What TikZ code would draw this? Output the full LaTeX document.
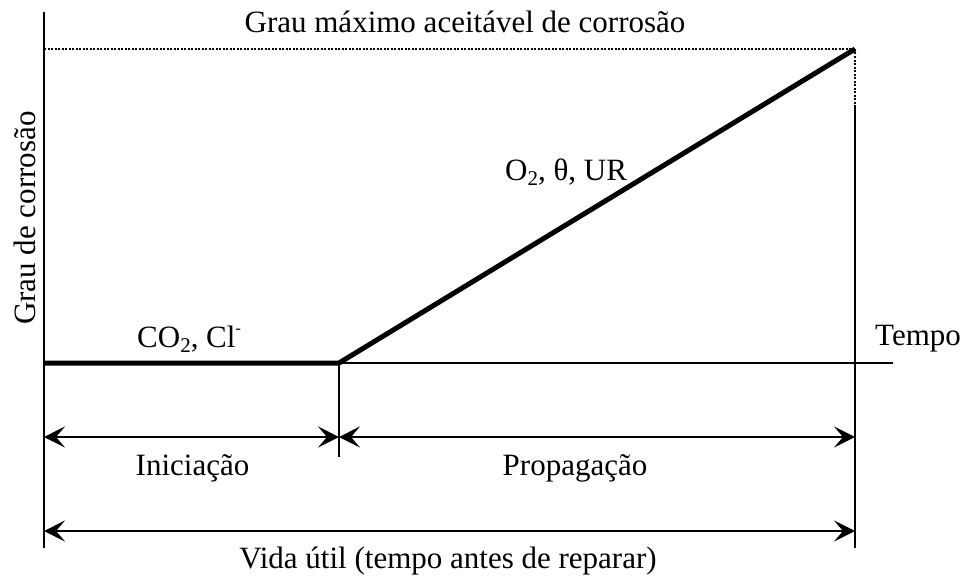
\documentclass[tikz,border=0pt]{standalone}
\usepackage{fontspec}
\setmainfont{Liberation Serif}
\usetikzlibrary{arrows.meta}
\tikzset{
  lbl/.style={inner sep=0pt, font=\fontsize{31}{37}\selectfont},
  thin line/.style={line width=1.6pt},
  thick curve/.style={line width=5pt, line cap=butt, line join=miter},
  dotline/.style={line width=2.8pt, dash pattern=on 2pt off 1.5pt},
  dim/.style={line width=1.6pt, {Stealth[length=21pt,width=21pt,inset=9pt]}-{Stealth[length=21pt,width=21pt,inset=9pt]}}
}
\begin{document}
\begin{tikzpicture}[x=1pt,y=-1pt]
\useasboundingbox (0,0) rectangle (965,578);
% coordinates
\coordinate (ytop) at (44,12);
\coordinate (ybot) at (44,548);
\coordinate (o) at (44,363);
\coordinate (xend) at (893,363);
\coordinate (knee) at (339,363);
\coordinate (kneebot) at (339,457);
\coordinate (peak) at (855,49);
\coordinate (maxl) at (44,49);
\coordinate (rdot) at (855,380);
\coordinate (rsol) at (855,105);
\coordinate (rbot) at (855,548);
\coordinate (a1l) at (44,437);
\coordinate (a1m) at (339,437);
\coordinate (a1r) at (855,437);
\coordinate (a2l) at (44,531);
\coordinate (a2r) at (855,531);
% axes
\draw[thin line] (ytop) -- (ybot);
\draw[thin line] (o) -- (xend);
\draw[thin line] (knee) -- (kneebot);
% max level dotted
\draw[dotline] (maxl) -- (peak);
\draw[dotline] (peak) -- (rdot);
\draw[line width=1.4pt] (rsol) -- (rbot);
% corrosion curve
\draw[thick curve] (o) -- (knee) -- (peak);
% dimension arrows
\draw[dim] (a1l) -- (a1m);
\draw[dim] (a1m) -- (a1r);
\draw[dim] (a2l) -- (a2r);
% labels
\node[lbl, anchor=base] (title) at (465,33) {Grau máximo aceitável de corrosão};
\node[lbl, anchor=base, rotate=90] (ylab) at (35,218) {Grau de corrosão};
\node[lbl, anchor=base west] (co2) at (137,347) {CO\raisebox{-0.18em}{\fontsize{21}{21}\selectfont 2}, Cl\raisebox{0.45em}{\fontsize{16}{16}\selectfont -}};
\node[lbl, anchor=base west] (o2) at (505,180) {O\raisebox{-0.18em}{\fontsize{21}{21}\selectfont 2}, θ, UR};
\node[lbl, anchor=base west] (tempo) at (875,345) {Tempo};
\node[lbl, anchor=base] (ini) at (192.5,475) {Iniciação};
\node[lbl, anchor=base] (prop) at (575,475) {Propagação};
\node[lbl, anchor=base] (vida) at (448,568) {Vida útil (tempo antes de reparar)};
\end{tikzpicture}
\end{document}
